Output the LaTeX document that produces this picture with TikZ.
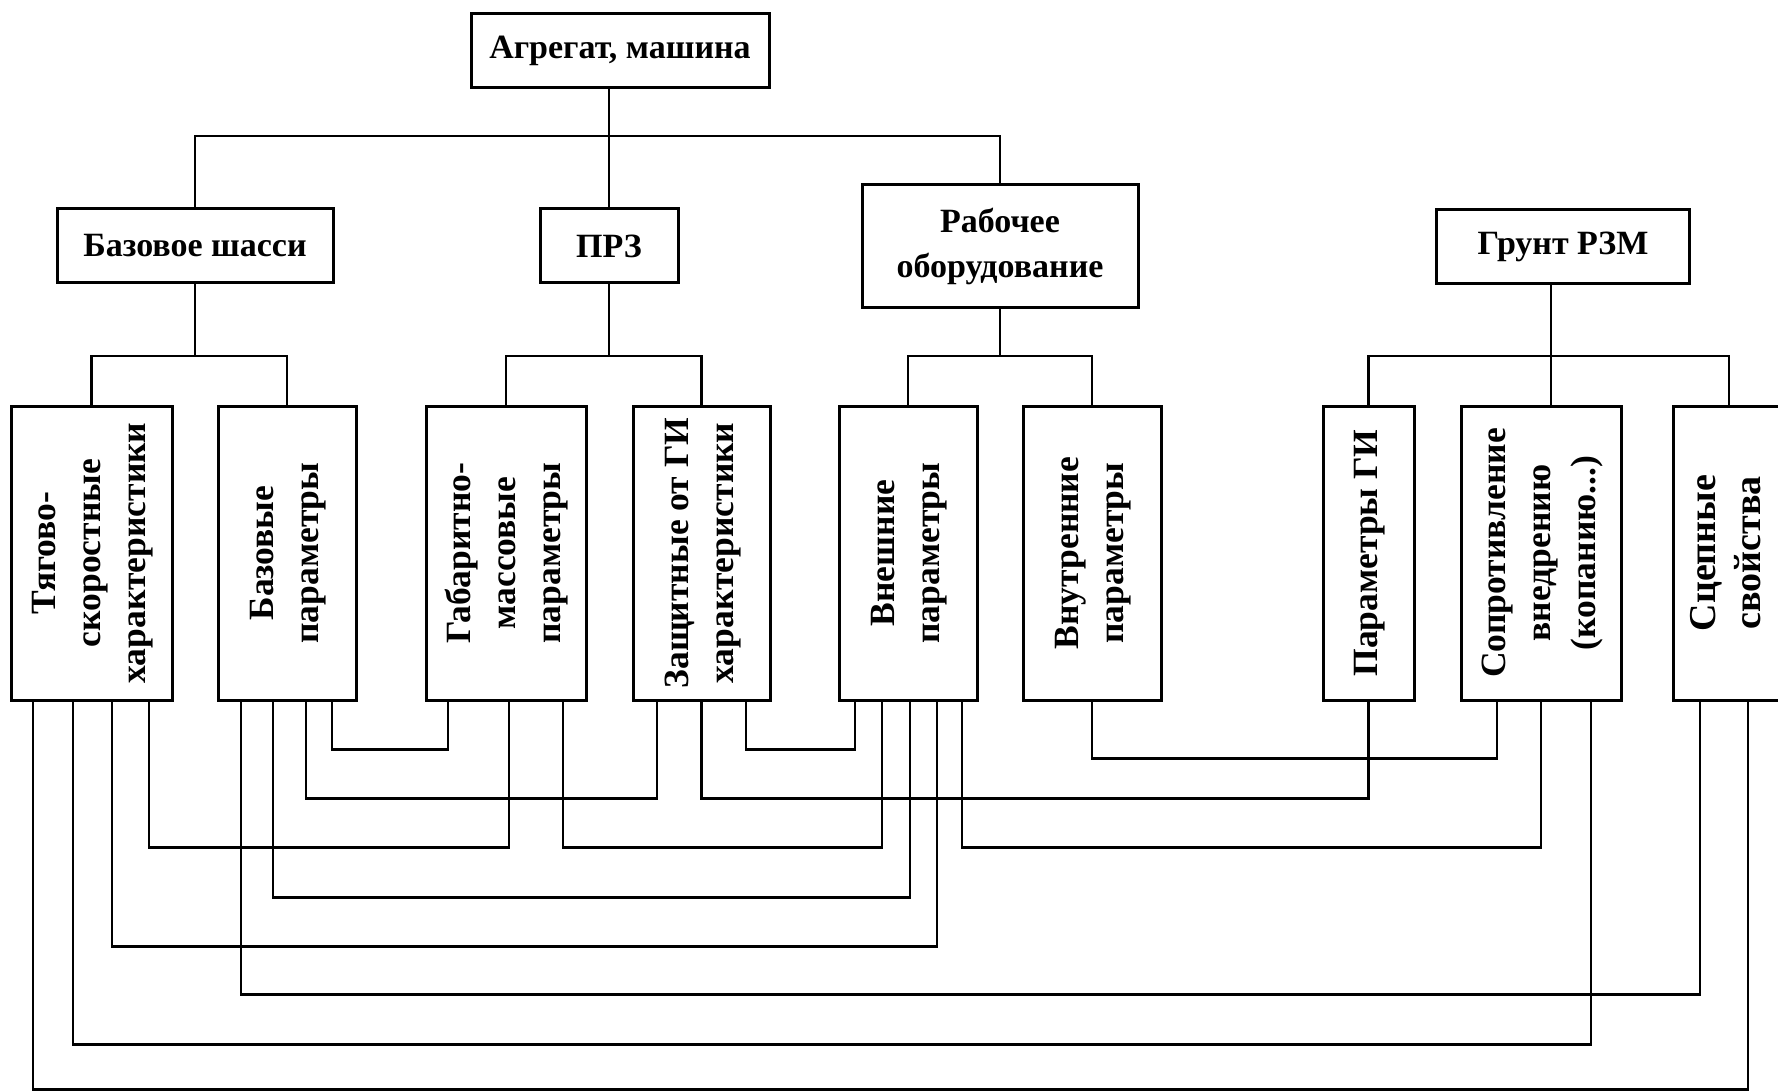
\documentclass[tikz,border=0pt]{standalone}
\usepackage{fontspec}
\setmainfont{Liberation Serif}
\usepackage{graphicx}
\newcommand{\vlabel}[1]{\rotatebox{90}{\begin{tabular}{@{}c@{}}#1\end{tabular}}}

\begin{document}
\begin{tikzpicture}[x=1pt, y=-1pt, line width=2.5pt,
	box/.style={draw, line width=3pt, inner sep=0pt, align=center, font=\bfseries\fontsize{34}{45}\selectfont},
	grpbox/.style={box, minimum height=74pt},
	parambox/.style={box, minimum height=294pt, font=\bfseries\fontsize{35.5}{45}\selectfont}]
	\useasboundingbox (0,0) rectangle (1778,1091);
	% levels 1 and 2
	\node[grpbox, minimum width=298] (agr)   at (620,50.5)   {Агрегат, машина};
	\node[grpbox, minimum width=276] (baz)   at (195,246)    {Базовое шасси};
	\node[grpbox, minimum width=138] (prz)   at (609,246)    {ПРЗ};
	\node[box, minimum width=276, minimum height=123] (rab) at (1000,246.5) {Рабочее\\оборудование};
	\node[grpbox, minimum width=253] (grunt) at (1563,246.5)  {Грунт РЗМ};
	% level 3
	\node[parambox, minimum width=161] (tyag)   at (91.5,553)   {\vlabel{Тягово-\\скоростные\\характеристики}};
	\node[parambox, minimum width=138] (bazpar) at (287,553)    {\vlabel{Базовые\\параметры}};
	\node[parambox, minimum width=160] (gabar)  at (506,553)    {\vlabel{Габаритно-\\массовые\\параметры}};
	\node[parambox, minimum width=137] (zasch)  at (701.5,553)  {\vlabel{Защитные от ГИ\\характеристики}};
	\node[parambox, minimum width=138] (vnesh)  at (908,553)    {\vlabel{Внешние\\параметры}};
	\node[parambox, minimum width=138] (vnutr)  at (1092,553)   {\vlabel{Внутренние\\параметры}};
	\node[parambox, minimum width=91]  (pargi)  at (1368.5,553) {\vlabel{Параметры ГИ}};
	\node[parambox, minimum width=160] (sopr)   at (1541,553)   {\vlabel{Сопротивление\\внедрению\\(копанию...)}};
	\node[parambox, minimum width=112, font=\bfseries\fontsize{38}{45}\selectfont] (scep) at (1729,553) {\vlabel{Сцепные\\свойства}};
	% tree
	\coordinate (bus)    at (609,136);
	\coordinate (bazbus) at (195,356);
	\coordinate (przbus) at (609,356);
	\coordinate (rabbus) at (1000,356);
	\coordinate (grbus)  at (1551,356);
	\draw (agr.south -| prz) -- (prz.north);
	\draw (baz.north) |- (bus) -| (rab.north);
	\draw (baz.south) -- (bazbus);
	\draw (tyag.north) |- (bazbus) -| (bazpar.north);
	\draw (prz.south) -- (przbus);
	\draw (gabar.north) |- (przbus) -| (zasch.north);
	\draw (rab.south) -- (rabbus);
	\draw (vnesh.north) |- (rabbus) -| (vnutr.north);
	\draw (grunt.south -| grbus) -- (grbus) -- (grbus |- sopr.north);
	\draw (pargi.north) |- (grbus) -| (scep.north);
	% links between parameters
	\draw ([xshift=-58.5]tyag.south)  -- ++(0,388) -| ([xshift=19]scep.south);
	\draw ([xshift=-18.5]tyag.south)  -- ++(0,343) -| ([xshift=50]sopr.south);
	\draw ([xshift=-46]bazpar.south)  -- ++(0,293) -| ([xshift=-29]scep.south);
	\draw ([xshift=20.5]tyag.south)   -- ++(0,245) -| ([xshift=29]vnesh.south);
	\draw ([xshift=-14]bazpar.south)  -- ++(0,196) -| ([xshift=2]vnesh.south);
	\draw ([xshift=57.5]tyag.south)   -- ++(0,146) -| ([xshift=3]gabar.south);
	\draw ([xshift=57]gabar.south)    -- ++(0,146) -| ([xshift=-26]vnesh.south);
	\draw ([xshift=54]vnesh.south)    -- ++(0,146) -| (sopr.south);
	\draw ([xshift=19]bazpar.south)   -- ++(0,97)  -| ([xshift=-44.5]zasch.south);
	\draw (zasch.south)               -- ++(0,97)  -| (pargi.south);
	\draw ([xshift=45]bazpar.south)   -- ++(0,48)  -| ([xshift=-58]gabar.south);
	\draw ([xshift=44.5]zasch.south)  -- ++(0,48)  -| ([xshift=-53]vnesh.south);
	\draw (vnutr.south)               -- ++(0,57)  -| ([xshift=-44]sopr.south);
\end{tikzpicture}
\end{document}
